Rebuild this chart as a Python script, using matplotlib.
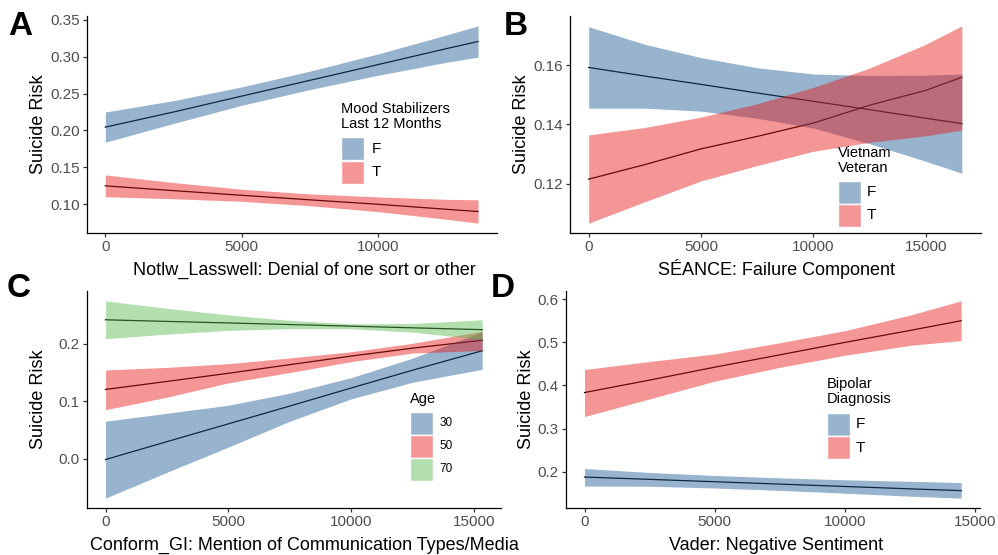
import matplotlib

matplotlib.use('Agg')  # no display in the sandbox
import matplotlib.pyplot as plt
from matplotlib.patches import Rectangle
from matplotlib.colors import to_rgba

plt.rcParams['font.family'] = ['Liberation Sans', 'DejaVu Sans']

# ---- data (x, fitted risk, band low/high) ----
a_x = [0, 2500, 5000, 7500, 10000, 12500, 13660]
a_f_fit = [0.2045, 0.2250, 0.2466, 0.2680, 0.2894, 0.3110, 0.3207]
a_f_hi = [0.2250, 0.2405, 0.2591, 0.2805, 0.3039, 0.3295, 0.3419]
a_f_lo = [0.1840, 0.2095, 0.2341, 0.2555, 0.2749, 0.2925, 0.2995]
a_t_fit = [0.1248, 0.1183, 0.1120, 0.1058, 0.0998, 0.0930, 0.0900]
a_t_hi = [0.1396, 0.1293, 0.1202, 0.1138, 0.1098, 0.1065, 0.1058]
a_t_lo = [0.1100, 0.1073, 0.1038, 0.0978, 0.0898, 0.0795, 0.0742]

b_x = [0, 2500, 5000, 7500, 10000, 12500, 15000, 16600]
b_f_fit = [0.1592, 0.1563, 0.1535, 0.1506, 0.1478, 0.1450, 0.1421, 0.1403]
b_f_hi = [0.1729, 0.1670, 0.1625, 0.1591, 0.1570, 0.1565, 0.1566, 0.1570]
b_f_lo = [0.1455, 0.1455, 0.1445, 0.1421, 0.1388, 0.1335, 0.1276, 0.1236]
b_t_fit = [0.1216, 0.1265, 0.1318, 0.1360, 0.1405, 0.1465, 0.1515, 0.1559]
b_t_hi = [0.1365, 0.1390, 0.1425, 0.1470, 0.1525, 0.1590, 0.1670, 0.1732]
b_t_lo = [0.1068, 0.1140, 0.1210, 0.1262, 0.1310, 0.1340, 0.1362, 0.1381]

c_x = [0, 2500, 5000, 7500, 10000, 12500, 15340]
c_30_fit = [-0.0017, 0.0295, 0.0605, 0.0915, 0.1230, 0.1540, 0.1880]
c_30_hi = [0.0651, 0.0790, 0.0930, 0.1140, 0.1410, 0.1750, 0.2210]
c_30_lo = [-0.0690, -0.0240, 0.0200, 0.0650, 0.1040, 0.1330, 0.1556]
c_50_fit = [0.1205, 0.1345, 0.1487, 0.1637, 0.1787, 0.1925, 0.2063]
c_50_hi = [0.1545, 0.1590, 0.1655, 0.1755, 0.1862, 0.2010, 0.2220]
c_50_lo = [0.0853, 0.1070, 0.1320, 0.1500, 0.1690, 0.1840, 0.1885]
c_70_fit = [0.2420, 0.2392, 0.2365, 0.2337, 0.2309, 0.2280, 0.2248]
c_70_hi = [0.2750, 0.2620, 0.2505, 0.2410, 0.2350, 0.2355, 0.2420]
c_70_lo = [0.2090, 0.2170, 0.2235, 0.2265, 0.2265, 0.2205, 0.2075]

d_x = [0, 2500, 5000, 7500, 10000, 12500, 14460]
d_f_fit = [0.1878, 0.1825, 0.1770, 0.1715, 0.1660, 0.1605, 0.1564]
d_f_hi = [0.2076, 0.1985, 0.1915, 0.1860, 0.1815, 0.1780, 0.1750]
d_f_lo = [0.1670, 0.1665, 0.1625, 0.1570, 0.1505, 0.1435, 0.1390]
d_t_fit = [0.3836, 0.4125, 0.4424, 0.4710, 0.4998, 0.5275, 0.5500]
d_t_hi = [0.4370, 0.4555, 0.4730, 0.4990, 0.5270, 0.5630, 0.5960]
d_t_lo = [0.3280, 0.3690, 0.4100, 0.4420, 0.4700, 0.4930, 0.5040]

x_ticks = [0, 5000, 10000, 15000]
a_yticks = [0.10, 0.15, 0.20, 0.25, 0.30, 0.35]
b_yticks = [0.12, 0.14, 0.16]
c_yticks = [0.0, 0.1, 0.2]
d_yticks = [0.2, 0.3, 0.4, 0.5, 0.6]

BLUE, RED, GREEN = '#1A5892', '#E91616', '#58BA4F'
ALPHA = 0.45

W, H = 998, 555


def fx(x):
    return x / W


def fy(y):
    return 1 - y / H


def make_axes(fig, left, right, top, bottom):
    return fig.add_axes([fx(left), fy(bottom), (right - left) / W, (bottom - top) / H])


def draw_group(ax, x, fit, lo, hi, color):
    # line sits under the ribbon, like the ggplot original
    ax.plot(x, fit, color='black', lw=0.9, zorder=1)
    ax.fill_between(x, lo, hi, color=color, alpha=ALPHA, lw=0, zorder=2)


def ax_top(ax):
    return (1 - ax.get_position().y1) * H


def ax_bottom(ax):
    return (1 - ax.get_position().y0) * H


def finish_axes(ax, x, bands, yticks, yfmt, xlabel, xlab_pos, ylab_x):
    lo = min(min(b) for b in bands)
    hi = max(max(b) for b in bands)
    ax.set_ylim(lo - 0.05 * (hi - lo), hi + 0.05 * (hi - lo))
    xr = max(x) - min(x)
    ax.set_xlim(min(x) - 0.05 * xr, max(x) + 0.05 * xr)
    ax.set_xticks([t for t in x_ticks if t <= max(x) + 0.05 * xr])
    ax.set_yticks(yticks)
    ax.set_yticklabels([yfmt % v for v in yticks])
    for s in ['top', 'right']:
        ax.spines[s].set_visible(False)
    for s in ['left', 'bottom']:
        ax.spines[s].set_linewidth(0.9)
    ax.tick_params(length=2.75, width=0.9, color='#333333', pad=2.2,
                   labelsize=11, labelcolor='#4D4D4D')
    ax.set_xlabel(xlabel, fontsize=13, va='baseline')
    ax.xaxis.set_label_coords(fx(xlab_pos[0]), fy(xlab_pos[1]), transform=fig.transFigure)
    ax.set_ylabel('Suicide Risk', fontsize=13, va='baseline', rotation_mode='anchor')
    ax.yaxis.set_label_coords(fx(ylab_x), fy((ax_top(ax) + ax_bottom(ax)) / 2),
                              transform=fig.transFigure)


def draw_key(fig, x, baselines, title_lines, key_top, labels, colors, label_x, label_size):
    for line, b in zip(title_lines, baselines):
        fig.text(fx(x), fy(b), line, fontsize=10.5, va='baseline', ha='left')
    for i, (lab, col) in enumerate(zip(labels, colors)):
        top = key_top + i * 23
        rect = Rectangle((fx(x), fy(top + 23)), 23 / W, 23 / H, transform=fig.transFigure,
                         facecolor=to_rgba(col, ALPHA), edgecolor='white', lw=1.0)
        fig.add_artist(rect)
        fig.text(fx(label_x), fy(top + 11.5), lab, fontsize=label_size, va='center', ha='left')


fig = plt.figure(figsize=(W / 100, H / 100), dpi=100)

# A
ax = make_axes(fig, 86.7, 496.7, 16, 233)
draw_group(ax, a_x, a_f_fit, a_f_lo, a_f_hi, BLUE)
draw_group(ax, a_x, a_t_fit, a_t_lo, a_t_hi, RED)
finish_axes(ax, a_x, [a_f_lo, a_f_hi, a_t_lo, a_t_hi], a_yticks, '%.2f',
            'Notlw_Lasswell: Denial of one sort or other', (304, 275), 42.7)
draw_key(fig, 340.7, [113.3, 127.7], ['Mood Stabilizers', 'Last 12 Months'], 137.5,
         ['F', 'T'], [BLUE, RED], 372, 11)

# B
ax = make_axes(fig, 570, 980.5, 16, 233)
draw_group(ax, b_x, b_f_fit, b_f_lo, b_f_hi, BLUE)
draw_group(ax, b_x, b_t_fit, b_t_lo, b_t_hi, RED)
finish_axes(ax, b_x, [b_f_lo, b_f_hi, b_t_lo, b_t_hi], b_yticks, '%.2f',
            'SÉANCE: Failure Component', (776, 275), 526)
draw_key(fig, 838.3, [156.7, 171.7], ['Vietnam', 'Veteran'], 180.5,
         ['F', 'T'], [BLUE, RED], 867, 11)

# C
ax = make_axes(fig, 86.7, 501, 291, 508)
draw_group(ax, c_x, c_30_fit, c_30_lo, c_30_hi, BLUE)
draw_group(ax, c_x, c_50_fit, c_50_lo, c_50_hi, RED)
draw_group(ax, c_x, c_70_fit, c_70_lo, c_70_hi, GREEN)
finish_axes(ax, c_x, [c_30_lo, c_30_hi, c_50_lo, c_50_hi, c_70_lo, c_70_hi], c_yticks, '%.1f',
            'Conform_GI: Mention of Communication Types/Media', (304, 550), 42.7)
draw_key(fig, 410, [403.3], ['Age'], 411.5, ['30', '50', '70'], [BLUE, RED, GREEN], 439.3, 8.5)

# D
ax = make_axes(fig, 565.7, 980, 291, 508)
draw_group(ax, d_x, d_f_fit, d_f_lo, d_f_hi, BLUE)
draw_group(ax, d_x, d_t_fit, d_t_lo, d_t_hi, RED)
finish_axes(ax, d_x, [d_f_lo, d_f_hi, d_t_lo, d_t_hi], d_yticks, '%.1f',
            'Vader: Negative Sentiment', (776.5, 550), 530.7)
draw_key(fig, 826.7, [388.3, 403.3], ['Bipolar', 'Diagnosis'], 413,
         ['F', 'T'], [BLUE, RED], 855.7, 11)

# panel letters
for letter, x, y in [('A', 8, 35), ('B', 504, 35), ('C', 7, 297), ('D', 491, 297)]:
    fig.text(fx(x), fy(y), letter, fontsize=24, fontweight='bold', va='baseline', ha='left')

fig.savefig('out.png', dpi=100)
